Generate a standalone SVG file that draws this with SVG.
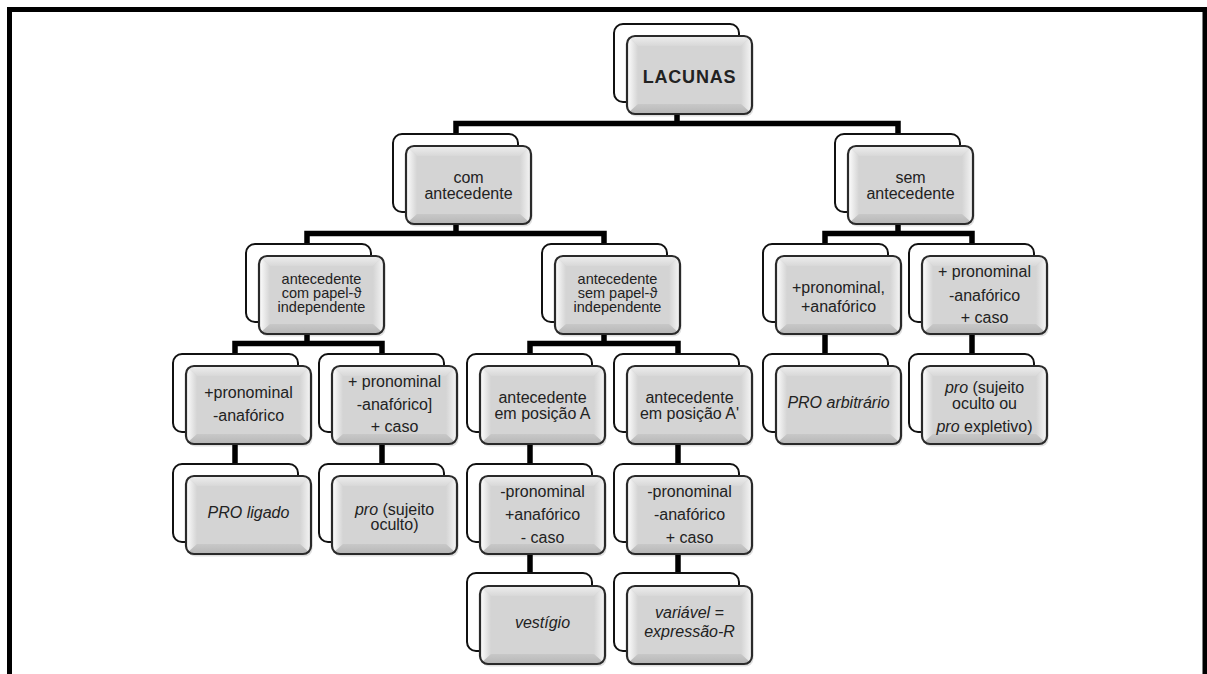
<svg xmlns="http://www.w3.org/2000/svg" width="1207" height="674" viewBox="0 0 1207 674">
<style>
.back{fill:#fff;stroke:#111;stroke-width:2}
.t{font-family:"Liberation Sans",Arial,sans-serif;font-size:16px;fill:#222;text-anchor:middle}
.s{font-size:14.5px}
.i{font-style:italic}
.b{font-weight:bold;font-size:18px;letter-spacing:0.8px}
.conn path{fill:none;stroke:#000;stroke-width:5.5;stroke-linejoin:miter}
</style>
<defs>
<linearGradient id="gl" x1="0" y1="0" x2="1" y2="0"><stop offset="0" stop-color="#ffffff"/><stop offset="1" stop-color="#d4d4d4"/></linearGradient>
<linearGradient id="gr" x1="0" y1="0" x2="1" y2="0"><stop offset="0" stop-color="#d4d4d4"/><stop offset="1" stop-color="#f6f6f6"/></linearGradient>
<linearGradient id="gt" x1="0" y1="0" x2="0" y2="1"><stop offset="0" stop-color="#eeeeee"/><stop offset="1" stop-color="#d8d8d8"/></linearGradient>
<linearGradient id="gb" x1="0" y1="0" x2="0" y2="1"><stop offset="0" stop-color="#c8c8c8"/><stop offset="1" stop-color="#b6b6b6"/></linearGradient>
<clipPath id="bc"><rect x="0" y="0" width="125" height="78" rx="8"/></clipPath>
<g id="btn">
<rect x="1.5" y="2.5" width="125" height="78" rx="8" fill="#000" opacity="0.12"/>
<rect x="0" y="0" width="125" height="78" rx="8" fill="#d4d4d4"/>
<g clip-path="url(#bc)">
<polygon points="0,0 125,0 114,10 11,10" fill="url(#gt)"/>
<polygon points="0,0 11,10 11,68 0,78" fill="url(#gl)"/>
<polygon points="125,0 125,78 114,68 114,10" fill="url(#gr)"/>
<polygon points="0,78 11,68 114,68 125,78" fill="url(#gb)"/>
</g>
<rect x="0" y="0" width="125" height="78" rx="8" fill="none" stroke="#2a2a2a" stroke-width="2.2"/>
</g>
</defs>
<rect x="0" y="0" width="1207" height="674" fill="#fff"/>
<path d="M9.5 674 V9.5 H1205 V674" fill="none" stroke="#000" stroke-width="5"/>
<g class="conn" id="connectors">
<path d="M677 70 V123.5"/>
<path d="M456 134 V123.5 H898 V134"/>
<path d="M456 180 V233.5"/>
<path d="M307 244 V233.5 H604 V244"/>
<path d="M898 180 V233.5"/>
<path d="M825 244 V233.5 H972 V244"/>
<path d="M307 290 V343.5"/>
<path d="M235 354 V343.5 H382 V354"/>
<path d="M604 290 V343.5"/>
<path d="M530 354 V343.5 H678 V354"/>
<path d="M825 290 V354"/>
<path d="M972 290 V354"/>
<path d="M235 400 V464"/>
<path d="M382 400 V464"/>
<path d="M530 400 V464"/>
<path d="M678 400 V464"/>
<path d="M530 510 V573"/>
<path d="M678 510 V573"/>
</g>
<g id="n-lacunas"><rect class="back" x="614" y="24" width="125" height="78" rx="9"/><use href="#btn" x="627" y="36"/><text class="t b" x="689.5" y="83">LACUNAS</text></g>
<g id="n-com"><rect class="back" x="393" y="134" width="125" height="78" rx="9"/><use href="#btn" x="406" y="146"/><text class="t" x="468.5" y="183">com</text><text class="t" x="468.5" y="199">antecedente</text></g>
<g id="n-sem"><rect class="back" x="835" y="134" width="125" height="78" rx="9"/><use href="#btn" x="848" y="146"/><text class="t" x="910.5" y="183">sem</text><text class="t" x="910.5" y="199">antecedente</text></g>
<g id="n-com-papel"><rect class="back" x="246" y="244" width="125" height="78" rx="9"/><use href="#btn" x="259" y="256"/><text class="t s" x="321.5" y="284">antecedente</text><text class="t s" x="321.5" y="298">com papel-ϑ</text><text class="t s" x="321.5" y="312">independente</text></g>
<g id="n-sem-papel"><rect class="back" x="542" y="244" width="125" height="78" rx="9"/><use href="#btn" x="555" y="256"/><text class="t s" x="617.5" y="284">antecedente</text><text class="t s" x="617.5" y="298">sem papel-ϑ</text><text class="t s" x="617.5" y="312">independente</text></g>
<g id="n-pron-anaf"><rect class="back" x="763" y="244" width="125" height="78" rx="9"/><use href="#btn" x="776" y="256"/><text class="t" x="838.5" y="292.5">+pronominal,</text><text class="t" x="838.5" y="311.5">+anafórico</text></g>
<g id="n-pron-caso-r"><rect class="back" x="909" y="244" width="125" height="78" rx="9"/><use href="#btn" x="922" y="256"/><text class="t" x="984.5" y="277">+ pronominal</text><text class="t" x="984.5" y="300.5">-anafórico</text><text class="t" x="984.5" y="322.5">+ caso</text></g>
<g id="n-pron-nanaf"><rect class="back" x="173" y="354" width="125" height="78" rx="9"/><use href="#btn" x="186" y="366"/><text class="t" x="248.5" y="398">+pronominal</text><text class="t" x="248.5" y="420.5">-anafórico</text></g>
<g id="n-pron-caso-l"><rect class="back" x="319" y="354" width="125" height="78" rx="9"/><use href="#btn" x="332" y="366"/><text class="t" x="394.5" y="386.5">+ pronominal</text><text class="t" x="394.5" y="410">-anafórico]</text><text class="t" x="394.5" y="431.5">+ caso</text></g>
<g id="n-pos-a"><rect class="back" x="467" y="354" width="125" height="78" rx="9"/><use href="#btn" x="480" y="366"/><text class="t" x="542.5" y="403">antecedente</text><text class="t" x="542.5" y="418.5">em posição A</text></g>
<g id="n-pos-a2"><rect class="back" x="614" y="354" width="125" height="78" rx="9"/><use href="#btn" x="627" y="366"/><text class="t" x="689.5" y="403">antecedente</text><text class="t" x="689.5" y="418.5">em posição A'</text></g>
<g id="n-pro-arb"><rect class="back" x="763" y="354" width="125" height="78" rx="9"/><use href="#btn" x="776" y="366"/><text class="t i" x="838.5" y="408">PRO arbitrário</text></g>
<g id="n-pro-expl"><rect class="back" x="909" y="354" width="125" height="78" rx="9"/><use href="#btn" x="922" y="366"/><text class="t" x="984.5" y="393"><tspan class="i">pro</tspan> (sujeito</text><text class="t" x="984.5" y="409">oculto ou</text><text class="t" x="984.5" y="432"><tspan class="i">pro</tspan> expletivo)</text></g>
<g id="n-pro-ligado"><rect class="back" x="173" y="464" width="125" height="78" rx="9"/><use href="#btn" x="186" y="476"/><text class="t i" x="248.5" y="518">PRO ligado</text></g>
<g id="n-pro-oculto"><rect class="back" x="319" y="464" width="125" height="78" rx="9"/><use href="#btn" x="332" y="476"/><text class="t" x="394.5" y="515"><tspan class="i">pro</tspan> (sujeito</text><text class="t" x="394.5" y="530">oculto)</text></g>
<g id="n-npron-anaf"><rect class="back" x="467" y="464" width="125" height="78" rx="9"/><use href="#btn" x="480" y="476"/><text class="t" x="542.5" y="496.5">-pronominal</text><text class="t" x="542.5" y="520">+anafórico</text><text class="t" x="542.5" y="542.5">- caso</text></g>
<g id="n-npron-nanaf"><rect class="back" x="614" y="464" width="125" height="78" rx="9"/><use href="#btn" x="627" y="476"/><text class="t" x="689.5" y="496.5">-pronominal</text><text class="t" x="689.5" y="520">-anafórico</text><text class="t" x="689.5" y="542.5">+ caso</text></g>
<g id="n-vestigio"><rect class="back" x="467" y="573" width="125" height="78" rx="9"/><use href="#btn" x="480" y="586"/><text class="t i" x="542.5" y="628">vestígio</text></g>
<g id="n-variavel"><rect class="back" x="614" y="573" width="125" height="78" rx="9"/><use href="#btn" x="627" y="586"/><text class="t i" x="689.5" y="618">variável =</text><text class="t i" x="689.5" y="637">expressão-R</text></g>
</svg>
